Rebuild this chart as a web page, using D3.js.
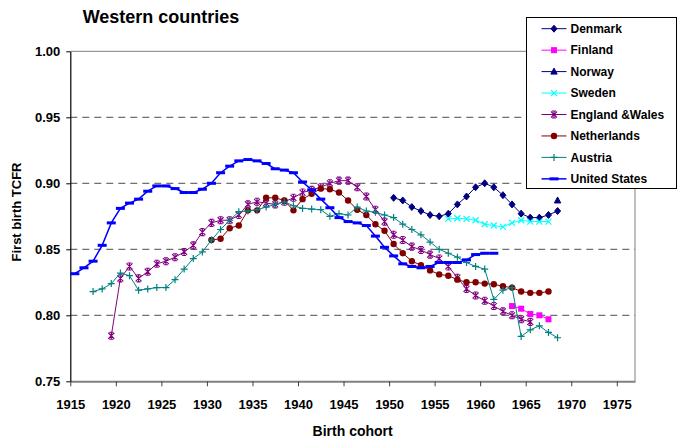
<!DOCTYPE html>
<html>
<head>
<meta charset="utf-8">
<script src="https://cdn.jsdelivr.net/npm/d3@7"></script>
<style>
  body { margin: 0; background: #fff; }
  svg text { font-family: "Liberation Sans", Arial, sans-serif; font-weight: bold; fill: #000; }
</style>
</head>
<body>
<div id="chartArea"></div>
<script>
// cohort tick labels
const cohortTicks = [1915, 1920, 1925, 1930, 1935, 1940, 1945, 1950, 1955, 1960, 1965, 1970, 1975];
const tcfrTicks = [0.75, 0.80, 0.85, 0.90, 0.95, 1.00];

// first birth TCFR by birth cohort, each series starts at its own cohort
const denmarkStart = 1950;
const denmark = [0.889, 0.887, 0.882, 0.879, 0.876, 0.875, 0.877, 0.884, 0.890, 0.897,
                 0.900, 0.897, 0.891, 0.884, 0.877, 0.874, 0.874, 0.876, 0.879];
const finlandStart = 1963;
const finland = [0.807, 0.805, 0.801, 0.800, 0.797];
const norwayStart = 1968;
const norway = [0.887];
const swedenStart = 1956;
const sweden = [0.873, 0.8735, 0.873, 0.872, 0.869, 0.868, 0.867, 0.870, 0.872, 0.871, 0.871, 0.871];
const englandStart = 1919;
const england = [0.7845, 0.828, 0.837, 0.828, 0.833, 0.839, 0.841, 0.844, 0.848, 0.853,
                 0.863, 0.870, 0.872, 0.872, 0.876, 0.884, 0.886, 0.885, 0.884, 0.886,
                 0.889, 0.893, 0.895, 0.897, 0.900, 0.902, 0.902, 0.897, 0.890, 0.880,
                 0.871, 0.861, 0.857, 0.852, 0.8495, 0.846, 0.843, 0.837, 0.8285, 0.820,
                 0.815, 0.811, 0.807, 0.803, 0.800, 0.797, 0.795];
const netherlandsStart = 1930;
const netherlands = [0.857, 0.858, 0.866, 0.868, 0.8795, 0.8795, 0.889, 0.889, 0.887, 0.8795,
                     0.888, 0.892, 0.896, 0.8955, 0.893, 0.887, 0.880, 0.876, 0.869, 0.864,
                     0.854, 0.847, 0.841, 0.838, 0.834, 0.831, 0.830, 0.827, 0.825, 0.825,
                     0.824, 0.8235, 0.822, 0.821, 0.818, 0.817, 0.817, 0.818];
const austriaStart = 1917;
const austria = [0.818, 0.820, 0.824, 0.832, 0.830, 0.819, 0.820, 0.821, 0.821, 0.827,
                 0.835, 0.843, 0.848, 0.857, 0.865, 0.872, 0.8785, 0.879, 0.880, 0.882,
                 0.884, 0.886, 0.883, 0.881, 0.8805, 0.880, 0.875, 0.877, 0.876, 0.882,
                 0.879, 0.878, 0.876, 0.874, 0.869, 0.865, 0.861, 0.8555, 0.850, 0.847,
                 0.844, 0.840, 0.837, 0.835, 0.812, 0.819, 0.821, 0.784, 0.789, 0.792,
                 0.787, 0.783];
const usStart = 1915;
const unitedStates = [0.8315, 0.836, 0.841, 0.853, 0.870, 0.881, 0.885, 0.888, 0.894, 0.898,
                      0.898, 0.896, 0.893, 0.893, 0.8955, 0.900, 0.908, 0.913, 0.917, 0.918,
                      0.917, 0.915, 0.911, 0.910, 0.908, 0.901, 0.895, 0.888, 0.8815, 0.874,
                      0.871, 0.870, 0.868, 0.860, 0.8515, 0.845, 0.839, 0.837, 0.836, 0.837,
                      0.840, 0.840, 0.840, 0.842, 0.846, 0.847, 0.847];

const countries = ["Denmark", "Finland", "Norway", "Sweden", "England &Wales", "Netherlands", "Austria", "United States"];

makeChart();

function makeChart(){
    const margin = {top: 51.3, right: 42, bottom: 58.7, left: 70.3},
          width = 677 - margin.left - margin.right,
          height = 440 - margin.top - margin.bottom;

    const series = [
        {name: countries[0], start: denmarkStart, values: denmark, color: "#000080", shape: "diamond"},
        {name: countries[1], start: finlandStart, values: finland, color: "#FF00FF", shape: "square"},
        {name: countries[2], start: norwayStart, values: norway, color: "#000080", shape: "triangle"},
        {name: countries[3], start: swedenStart, values: sweden, color: "#00FFFF", shape: "cross"},
        {name: countries[4], start: englandStart, values: england, color: "#800080", shape: "star"},
        {name: countries[5], start: netherlandsStart, values: netherlands, color: "#800000", shape: "circle"},
        {name: countries[6], start: austriaStart, values: austria, color: "#008080", shape: "plus"},
        {name: countries[7], start: usStart, values: unitedStates, color: "#0000FF", shape: "dash"}
    ];
    series.forEach(s => {
        // cohorts are plotted at mid-year
        s.points = s.values.map((v, i) => ({cohort: s.start + i + 0.5, value: v}));
    });

    const x = d3.scaleLinear().domain([1915, 1977]).range([0, width]);
    const y = d3.scaleLinear().domain([0.75, 1.0]).range([height, 0]);

    const svg = d3.select("#chartArea")
        .append("svg")
        .attr("width", 677)
        .attr("height", 440);

    svg.append("rect").attr("width", 677).attr("height", 440).attr("fill", "#fff");

    const g = svg.append("g")
        .attr("transform", "translate(" + margin.left + "," + margin.top + ")");

    // dashed gridlines
    g.selectAll(".grid")
        .data(tcfrTicks.filter(t => t > 0.75 && t < 1.0))
        .enter()
        .append("line")
        .attr("x1", 0).attr("x2", width)
        .attr("y1", d => y(d)).attr("y2", d => y(d))
        .attr("stroke", "#4d4d4d")
        .attr("stroke-width", 1)
        .attr("stroke-dasharray", "7,5");

    // plot area border (top and right)
    g.append("path")
        .attr("d", "M0," + y(1) + "H" + width + "V" + height)
        .attr("fill", "none")
        .attr("stroke", "#808080")
        .attr("stroke-width", 1);

    const xAxis = g.append("g")
        .attr("transform", "translate(0," + height + ")")
        .call(d3.axisBottom(x).tickValues(cohortTicks).tickFormat(d3.format("d"))
              .tickSize(5).tickPadding(13).tickSizeOuter(0));
    xAxis.select(".domain").attr("stroke", "#808080").attr("stroke-width", 2);
    xAxis.selectAll(".tick line").attr("stroke", "#404040");
    xAxis.selectAll("text").style("font-size", "13px");

    const yAxis = g.append("g")
        .call(d3.axisLeft(y).tickValues(tcfrTicks).tickFormat(d3.format(".2f"))
              .tickSize(4).tickPadding(6).tickSizeOuter(0));
    yAxis.select(".domain").attr("stroke", "#000").attr("stroke-width", 1.2);
    yAxis.selectAll(".tick line").attr("stroke", "#000");
    yAxis.selectAll("text").style("font-size", "13px");

    const line = d3.line()
        .x(d => x(d.cohort))
        .y(d => y(d.value));

    function drawMarker(sel, s){
        const c = s.color;
        if (s.shape === "diamond") {
            sel.append("path").attr("d", "M0,-3.5L3,0L0,3.5L-3,0Z").attr("fill", c).attr("stroke", c);
        } else if (s.shape === "square") {
            sel.append("rect").attr("x", -3).attr("y", -3).attr("width", 6).attr("height", 6).attr("fill", c);
        } else if (s.shape === "triangle") {
            sel.append("path").attr("d", "M0,-3.5L3.2,2.5L-3.2,2.5Z").attr("fill", c).attr("stroke", c);
        } else if (s.shape === "cross") {
            sel.append("path").attr("d", "M-3,-3L3,3M-3,3L3,-3").attr("stroke", c).attr("stroke-width", 1.2);
        } else if (s.shape === "star") {
            sel.append("path").attr("d", "M-3,-3L3,3M-3,3L3,-3M0,-3.5L0,3.5M-2,-3.5H2M-2,3.5H2")
                .attr("stroke", c).attr("stroke-width", 1.1);
        } else if (s.shape === "circle") {
            sel.append("circle").attr("r", 3.2).attr("fill", c);
        } else if (s.shape === "plus") {
            sel.append("path").attr("d", "M-3.5,0H3.5M0,-3.5V3.5").attr("stroke", c).attr("stroke-width", 1.2);
        } else if (s.shape === "dash") {
            sel.append("rect").attr("x", -4.5).attr("y", -1.5).attr("width", 9).attr("height", 3).attr("fill", c);
        }
    }

    series.forEach(s => {
        const sg = g.append("g");
        sg.append("path")
            .datum(s.points)
            .attr("d", line)
            .attr("fill", "none")
            .attr("stroke", s.color)
            .attr("stroke-width", s.shape === "dash" ? 1.5 : 1);
        sg.selectAll(".pt")
            .data(s.points)
            .enter()
            .append("g")
            .attr("transform", d => "translate(" + x(d.cohort) + "," + y(d.value) + ")")
            .each(function(){ drawMarker(d3.select(this), s); });
    });

    // titles
    svg.append("text")
        .attr("x", 161).attr("y", 23)
        .attr("text-anchor", "middle")
        .style("font-size", "18px")
        .text("Western countries");

    svg.append("text")
        .attr("x", margin.left + width / 2).attr("y", 436)
        .attr("text-anchor", "middle")
        .style("font-size", "14px")
        .text("Birth cohort");

    svg.append("text")
        .attr("transform", "translate(21,212) rotate(-90)")
        .attr("text-anchor", "middle")
        .style("font-size", "13px")
        .text("First birth TCFR");

    // legend
    const legend = svg.append("g").attr("transform", "translate(526.5,17.5)");
    legend.append("rect")
        .attr("width", 150).attr("height", 171)
        .attr("fill", "#fff").attr("stroke", "#000").attr("stroke-width", 1);
    series.forEach((s, i) => {
        const row = legend.append("g").attr("transform", "translate(0," + (11.2 + i * 21.45) + ")");
        row.append("line")
            .attr("x1", 15).attr("x2", 40)
            .attr("stroke", s.color).attr("stroke-width", s.shape === "dash" ? 1.5 : 1);
        drawMarker(row.append("g").attr("transform", "translate(27.5,0)"), s);
        row.append("text")
            .attr("x", 44).attr("dy", "0.35em")
            .style("font-size", "12px")
            .text(s.name);
    });
}
</script>
</body>
</html>
